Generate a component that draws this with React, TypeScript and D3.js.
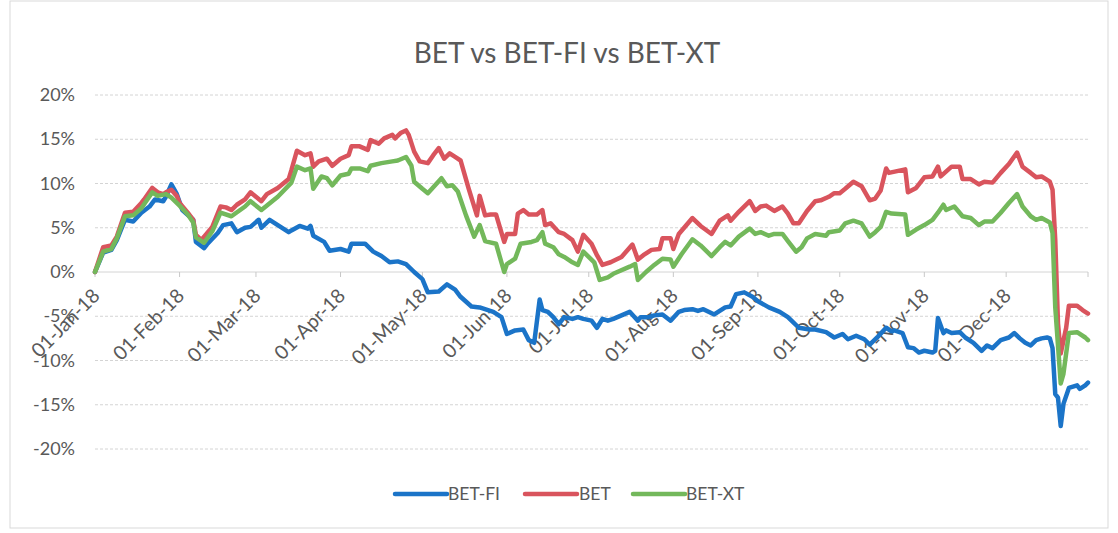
import React from "react";
import * as d3 from "d3";

const TITLE = "BET vs BET-FI vs BET-XT";
const yTickValues = [-20, -15, -10, -5, 0, 5, 10, 15, 20];
const monthStarts = [
  "2018-01-01", "2018-02-01", "2018-03-01", "2018-04-01", "2018-05-01", "2018-06-01",
  "2018-07-01", "2018-08-01", "2018-09-01", "2018-10-01", "2018-11-01", "2018-12-01",
];
const axisEnd = "2018-12-31";
const seriesNames = ["BET-FI", "BET", "BET-XT"];
const seriesColors = ["#1b74c8", "#d9545d", "#73b85b"];

const betFi: [string, number][] = [
  ["01-01", 0], ["01-04", 2.2], ["01-07", 2.5], ["01-09", 3.6], ["01-12", 5.9], ["01-15", 5.7],
  ["01-18", 6.7], ["01-21", 7.4], ["01-23", 8.2], ["01-26", 8.0], ["01-27", 8.5], ["01-29", 9.9],
  ["01-31", 8.8], ["02-02", 7.0], ["02-06", 5.9], ["02-07", 3.4], ["02-10", 2.7], ["02-11", 3.1],
  ["02-15", 4.4], ["02-17", 5.3], ["02-20", 5.5], ["02-22", 4.5], ["02-25", 5.0], ["02-27", 5.1],
  ["03-02", 5.9], ["03-03", 5.0], ["03-06", 5.9], ["03-10", 5.1], ["03-13", 4.5], ["03-14", 4.7],
  ["03-17", 5.2], ["03-20", 4.9], ["03-21", 5.2], ["03-22", 4.1], ["03-26", 3.4], ["03-28", 2.4],
  ["04-01", 2.6], ["04-04", 2.3], ["04-05", 3.2], ["04-10", 3.2], ["04-13", 2.3], ["04-16", 1.8],
  ["04-19", 1.1], ["04-22", 1.2], ["04-25", 0.9], ["04-28", 0.0], ["05-01", -0.8], ["05-03", -2.3],
  ["05-07", -2.2], ["05-10", -1.4], ["05-13", -2.0], ["05-15", -2.8], ["05-19", -3.9], ["05-22", -4.0],
  ["05-27", -4.5], ["05-30", -5.1], ["06-01", -7.0], ["06-04", -6.6], ["06-07", -6.5], ["06-09", -7.7],
  ["06-11", -8.0], ["06-13", -3.1], ["06-14", -4.3], ["06-16", -4.5], ["06-18", -5.1], ["06-20", -5.9],
  ["06-22", -5.1], ["06-25", -5.3], ["06-27", -5.1], ["06-29", -5.3], ["07-02", -5.5], ["07-04", -6.3],
  ["07-06", -5.3], ["07-08", -5.5], ["07-10", -5.3], ["07-13", -4.9], ["07-16", -4.5], ["07-19", -5.5],
  ["07-20", -5.1], ["07-23", -5.1], ["07-25", -4.9], ["07-28", -4.8], ["07-31", -5.5], ["08-03", -4.5],
  ["08-05", -4.3], ["08-08", -4.2], ["08-10", -4.4], ["08-12", -4.2], ["08-16", -4.8], ["08-20", -4.0],
  ["08-22", -3.9], ["08-24", -2.5], ["08-27", -2.3], ["08-30", -2.8], ["09-01", -3.3], ["09-05", -4.0],
  ["09-09", -4.5], ["09-12", -5.1], ["09-16", -6.3], ["09-20", -6.5], ["09-22", -6.5], ["09-26", -6.8],
  ["09-29", -7.4], ["10-02", -7.0], ["10-04", -7.6], ["10-07", -7.2], ["10-10", -7.6], ["10-12", -8.2],
  ["10-15", -7.3], ["10-18", -6.3], ["10-20", -6.7], ["10-21", -6.6], ["10-24", -6.9], ["10-26", -8.5],
  ["10-28", -8.6], ["10-30", -9.1], ["11-01", -8.9], ["11-04", -9.1], ["11-05", -8.9], ["11-06", -5.2],
  ["11-08", -6.9], ["11-09", -6.6], ["11-11", -6.9], ["11-14", -6.8], ["11-16", -7.4], ["11-19", -8.0],
  ["11-22", -8.9], ["11-24", -8.3], ["11-26", -8.6], ["11-29", -7.7], ["12-02", -7.4], ["12-04", -6.9],
  ["12-06", -7.5], ["12-08", -8.0], ["12-10", -8.3], ["12-12", -7.7], ["12-14", -7.5], ["12-16", -7.4],
  ["12-17", -7.5], ["12-18", -8.6], ["12-19", -13.8], ["12-20", -14.2], ["12-21", -17.4], ["12-22", -14.9],
  ["12-24", -13.1], ["12-27", -12.8], ["12-28", -13.2], ["12-30", -12.8], ["12-31", -12.5],
];

const bet: [string, number][] = [
  ["01-01", 0], ["01-04", 2.8], ["01-07", 3.0], ["01-09", 4.0], ["01-12", 6.7], ["01-15", 6.8],
  ["01-18", 7.8], ["01-19", 8.2], ["01-22", 9.5], ["01-24", 9.0], ["01-26", 8.8], ["01-27", 9.0],
  ["01-29", 9.3], ["01-31", 8.6], ["02-01", 7.8], ["02-04", 6.7], ["02-06", 5.9], ["02-07", 4.2],
  ["02-09", 3.6], ["02-10", 4.0], ["02-13", 5.1], ["02-16", 7.4], ["02-18", 7.3], ["02-20", 7.0],
  ["02-22", 7.6], ["02-25", 8.2], ["02-27", 9.0], ["03-03", 8.0], ["03-05", 8.8], ["03-09", 9.5],
  ["03-13", 10.5], ["03-14", 11.5], ["03-16", 13.7], ["03-19", 13.2], ["03-21", 13.4], ["03-22", 11.9],
  ["03-24", 12.5], ["03-27", 12.8], ["03-29", 12.0], ["04-01", 12.8], ["04-04", 13.2], ["04-05", 14.2],
  ["04-08", 14.2], ["04-11", 13.8], ["04-12", 14.9], ["04-15", 14.5], ["04-17", 15.1], ["04-20", 15.5],
  ["04-21", 15.1], ["04-23", 15.7], ["04-25", 16.0], ["04-26", 15.5], ["04-28", 13.6], ["04-30", 12.5],
  ["05-03", 12.3], ["05-05", 13.2], ["05-07", 14.0], ["05-09", 12.8], ["05-11", 13.4], ["05-13", 13.0],
  ["05-15", 12.6], ["05-18", 9.4], ["05-21", 6.4], ["05-22", 8.6], ["05-24", 6.4], ["05-26", 6.5],
  ["05-28", 6.5], ["05-31", 3.4], ["06-01", 4.3], ["06-04", 4.3], ["06-05", 6.6], ["06-07", 7.0],
  ["06-09", 6.5], ["06-12", 6.5], ["06-14", 7.0], ["06-15", 5.3], ["06-17", 5.5], ["06-20", 4.5],
  ["06-22", 4.3], ["06-25", 3.6], ["06-27", 2.3], ["06-29", 4.2], ["07-02", 3.2], ["07-04", 1.9],
  ["07-06", 0.8], ["07-09", 1.1], ["07-13", 1.7], ["07-17", 3.1], ["07-19", 1.4], ["07-21", 1.9],
  ["07-24", 2.5], ["07-27", 2.6], ["07-28", 3.8], ["07-31", 3.8], ["08-01", 2.6], ["08-03", 4.3],
  ["08-08", 6.1], ["08-11", 5.2], ["08-15", 4.3], ["08-18", 5.8], ["08-21", 6.4], ["08-22", 5.8],
  ["08-25", 6.8], ["08-29", 8.0], ["08-31", 6.9], ["09-02", 7.4], ["09-04", 7.5], ["09-07", 6.9],
  ["09-10", 7.4], ["09-12", 6.6], ["09-14", 5.5], ["09-16", 5.5], ["09-19", 6.9], ["09-22", 8.0],
  ["09-24", 8.1], ["09-27", 8.5], ["09-29", 8.9], ["10-01", 8.9], ["10-03", 9.4], ["10-06", 10.2],
  ["10-09", 9.7], ["10-12", 8.1], ["10-14", 8.3], ["10-16", 9.2], ["10-18", 11.7], ["10-19", 11.2],
  ["10-22", 11.4], ["10-25", 11.6], ["10-26", 9.0], ["10-29", 9.5], ["11-01", 10.7], ["11-04", 10.8],
  ["11-06", 11.9], ["11-07", 10.8], ["11-11", 11.9], ["11-14", 11.9], ["11-15", 10.5], ["11-18", 10.5],
  ["11-21", 9.9], ["11-23", 10.2], ["11-26", 10.1], ["11-29", 11.2], ["12-02", 12.2], ["12-05", 13.5],
  ["12-07", 11.9], ["12-10", 11.2], ["12-12", 10.7], ["12-14", 10.8], ["12-17", 10.2], ["12-18", 9.3],
  ["12-19", 3.6], ["12-20", -5.8], ["12-21", -9.2], ["12-23", -6.3], ["12-24", -3.8], ["12-27", -3.8],
  ["12-29", -4.3], ["12-31", -4.7],
];

const betXt: [string, number][] = [
  ["01-01", 0], ["01-04", 2.3], ["01-07", 2.6], ["01-09", 3.8], ["01-12", 6.3], ["01-15", 6.4],
  ["01-18", 7.2], ["01-22", 9.0], ["01-24", 8.6], ["01-27", 8.8], ["01-29", 8.4], ["02-01", 7.5],
  ["02-04", 6.5], ["02-06", 5.6], ["02-07", 3.9], ["02-10", 3.3], ["02-13", 4.6], ["02-16", 6.7],
  ["02-20", 6.3], ["02-25", 7.4], ["02-27", 8.0], ["03-03", 7.0], ["03-09", 8.5], ["03-14", 10.1],
  ["03-16", 11.9], ["03-19", 11.5], ["03-21", 11.7], ["03-22", 9.4], ["03-25", 10.8], ["03-27", 10.6],
  ["03-29", 9.8], ["04-01", 10.9], ["04-04", 11.1], ["04-05", 11.7], ["04-08", 11.7], ["04-11", 11.4],
  ["04-12", 12.0], ["04-16", 12.3], ["04-20", 12.5], ["04-22", 12.6], ["04-25", 13.0], ["04-27", 12.0],
  ["04-28", 10.2], ["05-01", 9.4], ["05-03", 8.9], ["05-08", 10.6], ["05-10", 9.7], ["05-12", 9.8],
  ["05-14", 9.1], ["05-17", 6.4], ["05-20", 4.0], ["05-22", 5.3], ["05-24", 3.5], ["05-25", 3.4],
  ["05-28", 3.2], ["05-31", 0.0], ["06-01", 0.9], ["06-04", 1.5], ["06-06", 3.2], ["06-10", 3.4],
  ["06-12", 3.6], ["06-14", 4.5], ["06-15", 3.2], ["06-18", 2.8], ["06-20", 2.0], ["06-22", 1.7],
  ["06-25", 1.1], ["06-27", 0.8], ["06-29", 2.3], ["07-03", 1.1], ["07-05", -0.9], ["07-08", -0.6],
  ["07-10", -0.2], ["07-16", 0.6], ["07-18", 0.9], ["07-19", -0.9], ["07-22", 0.0], ["07-25", 0.8],
  ["07-28", 1.5], ["07-31", 1.4], ["08-01", 0.6], ["08-04", 2.0], ["08-08", 3.7], ["08-11", 3.0],
  ["08-15", 1.8], ["08-18", 2.8], ["08-20", 3.4], ["08-22", 3.0], ["08-25", 4.0], ["08-29", 4.9],
  ["08-31", 4.3], ["09-02", 4.5], ["09-05", 4.1], ["09-07", 4.3], ["09-10", 4.3], ["09-12", 3.5],
  ["09-15", 2.3], ["09-17", 2.8], ["09-19", 3.8], ["09-22", 4.3], ["09-26", 4.1], ["09-27", 4.5],
  ["10-01", 4.7], ["10-03", 5.5], ["10-06", 5.8], ["10-09", 5.5], ["10-12", 4.0], ["10-14", 4.5],
  ["10-16", 5.1], ["10-18", 6.8], ["10-20", 6.6], ["10-25", 6.5], ["10-26", 4.2], ["10-29", 4.8],
  ["11-01", 5.3], ["11-04", 5.9], ["11-06", 6.7], ["11-08", 7.6], ["11-09", 7.0], ["11-12", 7.4],
  ["11-15", 6.3], ["11-18", 6.1], ["11-21", 5.3], ["11-23", 5.7], ["11-26", 5.7], ["11-29", 6.7],
  ["12-02", 7.8], ["12-05", 8.8], ["12-07", 7.4], ["12-10", 6.3], ["12-12", 5.9], ["12-14", 6.1],
  ["12-17", 5.6], ["12-18", 4.4], ["12-19", -4.0], ["12-21", -12.6], ["12-22", -11.5], ["12-24", -6.9],
  ["12-27", -6.8], ["12-30", -7.4], ["12-31", -7.7],
];

const parse = d3.timeParse("%Y-%m-%d");
const fmt = d3.timeFormat("%d-%b-%y");

const W = 1118;
const H = 533;
const plotLeft = 95;
const plotRight = 1088;
const font = "Lato, 'Open Sans', sans-serif";
const textColor = "#595959";

export default function App() {
  const x = d3
    .scaleTime()
    .domain([parse("2018-01-01") as Date, parse(axisEnd) as Date])
    .range([plotLeft, plotRight]);
  const y = d3.scaleLinear().domain([-20, 20]).range([449, 95]);

  const line = d3
    .line<[string, number]>()
    .x((d) => x(parse("2018-" + d[0]) as Date))
    .y((d) => y(d[1]))
    .curve(d3.curveLinear);

  const allSeries = [betFi, bet, betXt];
  const tickDates = [...monthStarts, axisEnd].map((s) => parse(s) as Date);
  const y0 = y(0);

  const legendItems = [
    { x: 395, textX: 448 },
    { x: 525, textX: 579 },
    { x: 633, textX: 686 },
  ];

  return (
    <svg
      width={W}
      height={H}
      style={{ position: "absolute", left: 0, top: 0, background: "#fff" }}
      fontFamily={font}
    >
      <rect x={10} y={1} width={1098} height={527} fill="#fff" stroke="#d9d9d9" strokeWidth={1} />
      <text x={567} y={63} textAnchor="middle" fontSize={28} fill={textColor}>
        {TITLE}
      </text>
      {yTickValues.map((v) => (
        <g key={v}>
          <line
            x1={plotLeft}
            x2={plotRight}
            y1={y(v)}
            y2={y(v)}
            stroke="#d4d4d4"
            strokeWidth={1}
            strokeDasharray={v === 0 ? undefined : "3 2"}
          />
          <text x={75} y={y(v) + 6} textAnchor="end" fontSize={18} fill={textColor}>
            {v + "%"}
          </text>
        </g>
      ))}
      {tickDates.map((d, i) => (
        <line key={"t" + i} x1={x(d)} x2={x(d)} y1={y0} y2={y0 + 5} stroke="#c8c8c8" />
      ))}
      {monthStarts.map((s) => {
        const d = parse(s) as Date;
        const tx = x(d) + 6;
        const ty = y0 + 25;
        return (
          <text
            key={s}
            x={tx}
            y={ty}
            textAnchor="end"
            fontSize={19.5}
            fill={textColor}
            transform={`rotate(-45 ${tx} ${ty})`}
          >
            {fmt(d)}
          </text>
        );
      })}
      {allSeries.map((s, i) => (
        <path
          key={seriesNames[i]}
          d={line(s) || ""}
          fill="none"
          stroke={seriesColors[i]}
          strokeWidth={4.5}
          strokeLinejoin="round"
          strokeLinecap="round"
        />
      ))}
      {legendItems.map((li, i) => (
        <g key={seriesNames[i]}>
          <line
            x1={li.x}
            x2={li.x + 52}
            y1={494}
            y2={494}
            stroke={seriesColors[i]}
            strokeWidth={4.5}
            strokeLinecap="round"
          />
          <text x={li.textX} y={500} fontSize={17.5} fill={textColor}>
            {seriesNames[i]}
          </text>
        </g>
      ))}
    </svg>
  );
}
